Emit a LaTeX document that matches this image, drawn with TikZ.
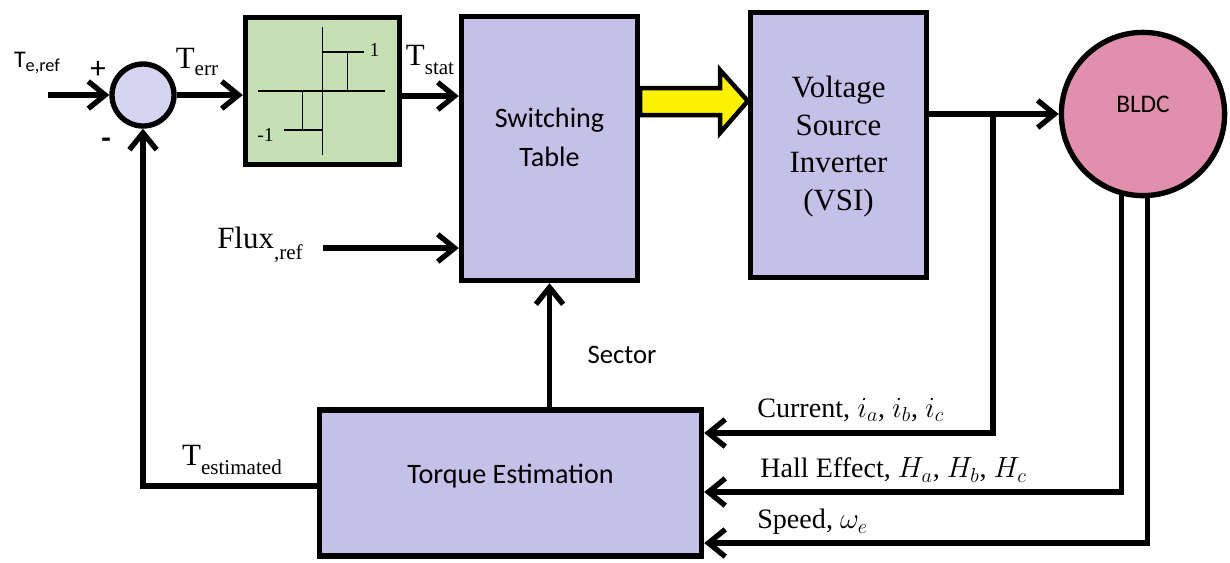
\documentclass[tikz,border=0pt]{standalone}
\usepackage{fontspec}
\setmainfont{Liberation Serif}
\newfontfamily\carl{Carlito}
\usetikzlibrary{arrows.meta,calc}
\definecolor{lav}{RGB}{197,192,232}
\definecolor{sumfill}{RGB}{214,212,240}
\definecolor{grn}{RGB}{198,224,180}
\definecolor{pnk}{RGB}{224,143,173}
\newcommand{\lo}[2][5pt]{\raisebox{-#1}{\fontsize{15}{17}\selectfont #2}}
\newcommand{\fs}[1]{\fontsize{#1}{#1}\selectfont}
\begin{document}
\begin{tikzpicture}[x=0.025cm, y=-0.025cm,
  blk/.style={draw, line width=3.8pt, fill=lav, align=center},
  sig/.style={line width=3.8pt, -{Straight Barb[length=0.42cm, width=0.68cm]}},
  hline/.style={line width=1.4pt},
  lbl/.style={inner sep=0pt, font=\fs{20}}]
  \useasboundingbox (0,0) rectangle (1230,562);
  % blocks
  \node[draw, circle, line width=3.8pt, fill=sumfill, minimum size=1.55cm] (sum) at (143,95) {};
  \node[draw, line width=3.8pt, fill=grn, minimum width=3.85cm, minimum height=3.68cm] (hyst) at (322.5,91) {};
  \node[blk, minimum width=4.4cm, minimum height=6.6cm, font=\carl\fs{20}] (swt) at (549.5,148.5)
    {\raisebox{5pt}[\height][\depth]{\begin{tabular}{@{}c@{}}Switching\\[8pt]Table\end{tabular}}};
  \node[blk, minimum width=4.4cm, minimum height=6.62cm, font=\fs{22}] (vsi) at (838.5,145)
    {\raisebox{-2pt}[\height][\depth]{\begin{tabular}{@{}c@{}}Voltage\\[5pt]Source\\[5pt]Inverter\\[5pt](VSI)\end{tabular}}};
  \node[draw, circle, line width=3.8pt, fill=pnk, minimum size=4.08cm, font=\carl\fs{18}] (bldc) at (1143,114) {\raisebox{7pt}[\height][\depth]{BLDC}};
  \node[blk, minimum width=9.55cm, minimum height=3.65cm, font=\carl\fs{20}] (torq) at (510.5,483) {\raisebox{5pt}[\height][\depth]{Torque Estimation}};
  % hysteresis comparator
  \begin{scope}[shift={(hyst.center)}]
    \draw[hline] (-65,0) -- (62,0);
    \draw[hline] (0,-64) -- (0,64);
    \draw[hline] (0,-39) -- (41,-39);
    \draw[hline] (25,-39) -- (25,0);
    \draw[hline] (-39,39) -- (0,39);
    \draw[hline] (-20,39) -- (-20,0);
    \node[font=\fs{14}] (one) at (52,-41) {1};
    \node[font=\fs{14}] (mone) at (-57,44) {-1};
  \end{scope}
  % signals
  \coordinate (tin) at (48,95);
  \draw[sig] (tin) -- (sum.west);
  \node[lbl, font=\carl\fs{17}] (teref) at (37,63) {T\raisebox{-3pt}{\fs{13}e,ref}};
  \node[lbl, font=\carl\fs{22}] (plus) at (98,70) {+};
  \node[lbl, font=\carl\bfseries\fs{22}] (minus) at (106,143) {-};
  \draw[sig] (sum.east) -- (sum.east -| hyst.west);
  \node[lbl, font=\fs{22}] (terr) at (197,62) {T\lo{err}};
  \draw[sig] (hyst.east |- 0,96) -- (swt.west |- 0,96);
  \node[lbl, font=\fs{22}] (tstat) at (430,60) {T\lo[7pt]{stat}};
  \coordinate (fin) at (323,248);
  \draw[sig] (fin) -- (fin -| swt.west);
  \node[lbl, font=\fs{22}] (flux) at (260,245) {Flux\lo[8pt]{,ref}};
  % power arrow
  \draw[line width=3.2pt, fill=yellow] (swt.east |- 0,88) -- (720,88) -- (720,70) -- (vsi.west |- 0,101)
    -- (720,133) -- (720,115) -- (swt.east |- 0,115) -- cycle;
  \draw[sig] (vsi.east |- bldc.west) -- (bldc.west);
  \coordinate (br) at (993,115);
  \draw[sig] (br) |- (torq.east |- 0,433);
  \draw[sig] (bldc.-105) |- (torq.east |- 0,492);
  \draw[sig] (bldc.-87) |- (torq.east |- 0,543);
  \node[lbl, anchor=west] (cur) at (757,410) {Current, $i_a$, $i_b$, $i_c$};
  \node[lbl, anchor=west] (hall) at (760,470) {Hall Effect, $H_a$, $H_b$, $H_c$};
  \node[lbl, anchor=west] (spd) at (757,522) {Speed, $\omega_e$};
  \draw[sig] (torq.north -| swt.south) -- (swt.south);
  \node[lbl, font=\carl\fs{19}] (sec) at (622,355) {Sector};
  \draw[sig] (torq.west |- 0,486) -| (sum.south);
  \node[lbl, font=\fs{22}] (test) at (232,460) {T\lo[7pt]{estimated}};
\end{tikzpicture}
\end{document}
